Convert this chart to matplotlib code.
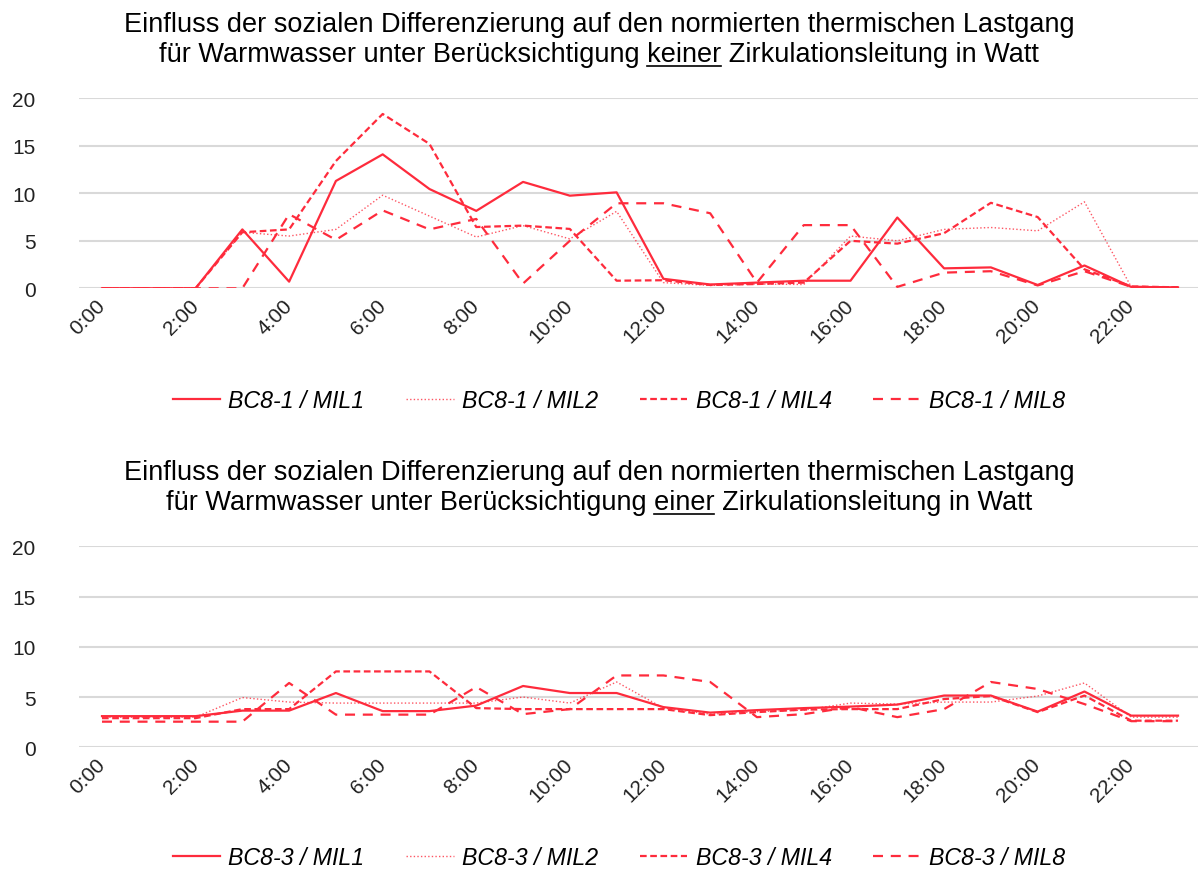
import matplotlib
matplotlib.use('Agg')
import matplotlib.pyplot as plt
from matplotlib.lines import Line2D

plt.rcParams['font.family'] = ['Liberation Sans', 'DejaVu Sans']

# Stunden 0:00 .. 23:00
stunden = list(range(24))
xlabels = ['%d:00' % h for h in range(0, 24, 2)]

# ohne Zirkulationsleitung (BC8-1)
bc81_mil1 = [0, 0, 0, 6.2, 0.7, 11.3, 14.1, 10.45, 8.15, 11.2, 9.75, 10.1, 1.0, 0.4, 0.6, 0.8, 0.8, 7.45, 2.1, 2.2, 0.35, 2.4, 0.15, 0.1]
bc81_mil2 = [0, 0, 0, 5.9, 5.5, 6.2, 9.8, 7.6, 5.4, 6.6, 5.2, 8.1, 0.6, 0.3, 0.45, 0.4, 5.5, 5.0, 6.2, 6.4, 6.05, 9.1, 0.15, 0.1]
bc81_mil4 = [0, 0, 0, 5.9, 6.2, 13.4, 18.35, 15.2, 6.45, 6.6, 6.25, 0.8, 0.85, 0.35, 0.45, 0.6, 5.0, 4.7, 5.8, 9.0, 7.5, 2.0, 0.2, 0.1]
bc81_mil8 = [0, 0, 0, 0, 7.8, 5.1, 8.2, 6.2, 7.3, 0.5, 5.0, 8.95, 8.95, 7.9, 0.6, 6.65, 6.65, 0.15, 1.65, 1.8, 0.3, 1.8, 0.15, 0.1]

# mit Zirkulationsleitung (BC8-3)
bc83_mil1 = [3.1, 3.1, 3.1, 3.65, 3.65, 5.4, 3.6, 3.6, 4.15, 6.1, 5.4, 5.4, 4.0, 3.45, 3.7, 3.9, 4.05, 4.25, 5.15, 5.15, 3.55, 5.55, 3.15, 3.15]
bc83_mil2 = [3.0, 3.0, 3.0, 4.95, 4.5, 4.4, 4.4, 4.4, 4.4, 5.0, 4.4, 6.5, 3.9, 3.3, 3.55, 3.7, 4.4, 4.3, 4.5, 4.5, 5.1, 6.4, 3.0, 3.0]
bc83_mil4 = [2.9, 2.9, 2.9, 3.8, 3.8, 7.55, 7.55, 7.55, 3.9, 3.8, 3.8, 3.8, 3.8, 3.2, 3.5, 3.75, 3.8, 3.8, 4.8, 5.1, 3.5, 5.15, 2.65, 2.65]
bc83_mil8 = [2.55, 2.55, 2.55, 2.55, 6.4, 3.25, 3.25, 3.25, 6.0, 3.3, 3.8, 7.15, 7.15, 6.5, 3.0, 3.3, 4.0, 3.0, 3.8, 6.5, 5.8, 4.3, 2.6, 2.6]

rot = '#fe2b3c'
stile = [
    dict(color=rot, lw=1.6, linestyle='-'),
    dict(color=rot, lw=1.0, linestyle=(0, (1, 1.6)), alpha=0.8),
    dict(color=rot, lw=1.6, linestyle=(0, (3, 1.6))),
    dict(color=rot, lw=1.6, linestyle=(0, (4.5, 3.5))),
]

W, H = 1198, 870
fig = plt.figure(figsize=(W / 100, H / 100), dpi=100)


def px_axes(left, right, top, bottom):
    return fig.add_axes([left / W, 1 - bottom / H, (right - left) / W, (bottom - top) / H])


def zeichne(ax, reihen, namen, legend_y):
    for werte, st, name in zip(reihen, stile, namen):
        ax.plot(stunden, werte, label=name, **st)
    ax.set_xlim(-0.5, 23.5)
    ax.set_ylim(0, 20)
    ax.set_yticks([0, 5, 10, 15, 20])
    ax.set_xticks(range(0, 24, 2))
    ax.set_xticklabels(xlabels, rotation=45, ha='right', va='center', rotation_mode='anchor')
    ax.tick_params(length=0, labelsize=15, colors='#222222')
    ax.tick_params(axis='x', pad=10)
    ax.tick_params(axis='y', pad=31)
    ax.grid(axis='y', color='#d9d9d9', lw=1.5)
    ax.set_axisbelow(True)
    for s in ax.spines.values():
        s.set_visible(False)
    handles, labels = ax.get_legend_handles_labels()
    fig.legend(handles, labels, loc='center', bbox_to_anchor=(0.5 + 20 / W, 1 - legend_y / H), ncol=4,
               frameon=False, prop={'style': 'italic', 'size': 16.7}, handlelength=2.05,
               handletextpad=0.35, columnspacing=1.8)


def titel(y_px, zeile1, vor, wort, nach, size=19.5):
    r = fig.canvas.get_renderer()
    fig.text(0.5, 1 - y_px / H, zeile1, ha='center', va='baseline', fontsize=size)
    y2 = 1 - (y_px + 30) / H
    t = fig.text(0.5, y2, vor + wort + nach, ha='center', va='baseline', fontsize=size)
    bb = t.get_window_extent(r)
    tmp = fig.text(0, 0, vor + wort, fontsize=size)
    w_vw = tmp.get_window_extent(r).width
    tmp.remove()
    tmp = fig.text(0, 0, wort, fontsize=size)
    w_w = tmp.get_window_extent(r).width
    tmp.remove()
    x_end = bb.x0 + w_vw
    x_start = x_end - w_w
    y_line = bb.y0 + 1
    fig.add_artist(Line2D([x_start / W, x_end / W], [y_line / H, y_line / H], color='black', lw=1.2))


ax1 = px_axes(78.6, 1201.4, 99.3, 289.3)
zeichne(ax1, [bc81_mil1, bc81_mil2, bc81_mil4, bc81_mil8],
        ['BC8-1 / MIL1', 'BC8-1 / MIL2', 'BC8-1 / MIL4', 'BC8-1 / MIL8'], 402)

ax2 = px_axes(78.6, 1201.4, 547.3, 748.3)
zeichne(ax2, [bc83_mil1, bc83_mil2, bc83_mil4, bc83_mil8],
        ['BC8-3 / MIL1', 'BC8-3 / MIL2', 'BC8-3 / MIL4', 'BC8-3 / MIL8'], 859)

titel(32, 'Einfluss der sozialen Differenzierung auf den normierten thermischen Lastgang',
      'für Warmwasser unter Berücksichtigung ', 'keiner', ' Zirkulationsleitung in Watt')
titel(480, 'Einfluss der sozialen Differenzierung auf den normierten thermischen Lastgang',
      'für Warmwasser unter Berücksichtigung ', 'einer', ' Zirkulationsleitung in Watt')

fig.savefig('out.png', dpi=100)
